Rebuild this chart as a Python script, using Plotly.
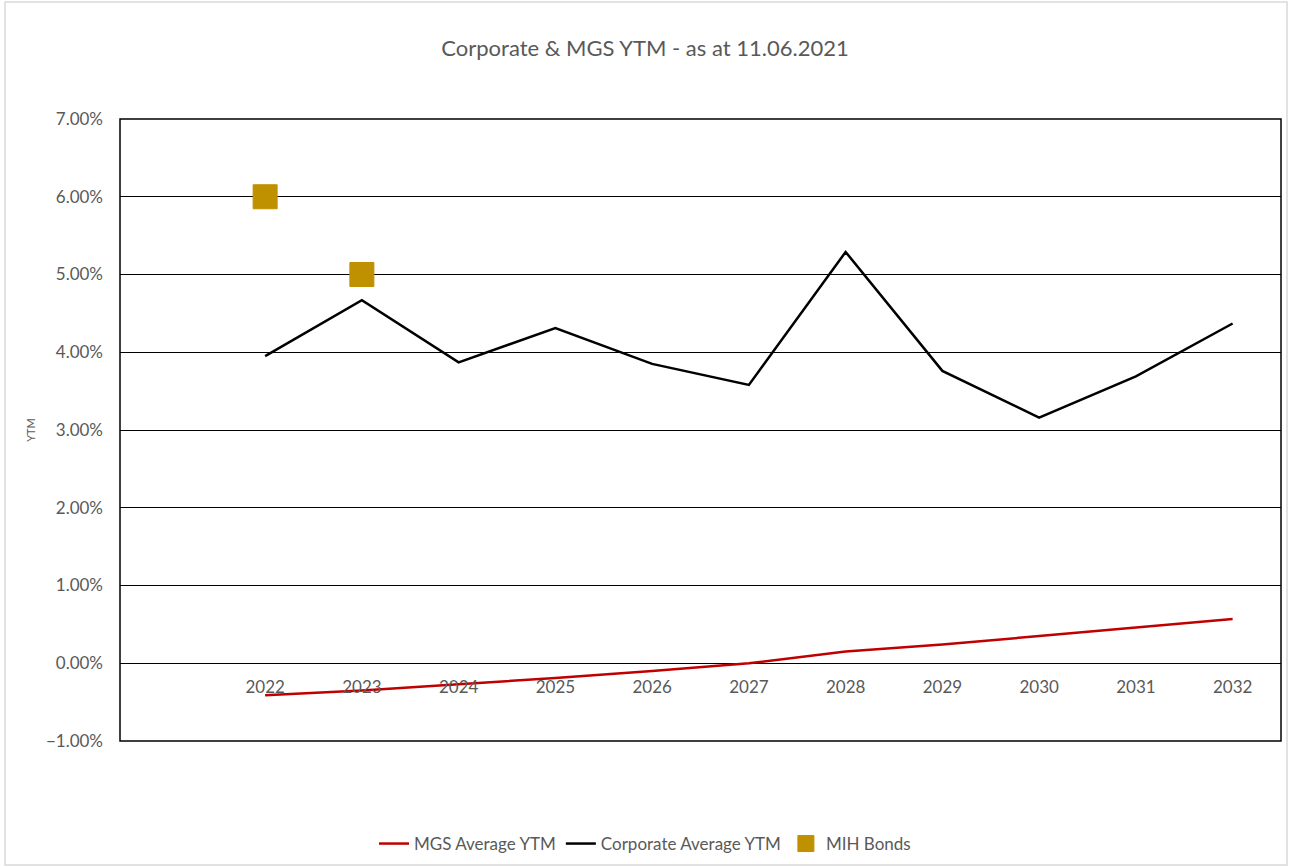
import plotly.graph_objects as go

years = [2022, 2023, 2024, 2025, 2026, 2027, 2028, 2029, 2030, 2031, 2032]
tick_labels = [str(y) for y in years]
mgs_ytm = [-0.41, -0.35, -0.27, -0.19, -0.10, 0.00, 0.15, 0.24, 0.35, 0.46, 0.57]
corp_ytm = [3.95, 4.67, 3.87, 4.31, 3.85, 3.58, 5.29, 3.76, 3.16, 3.69, 4.37]
mih_years = [2022, 2023]
mih_ytm = [6.00, 5.00]

font_family = "Lato, 'Open Sans', sans-serif"
grey = "#595959"

fig = go.Figure()
fig.add_trace(go.Scatter(x=years, y=mgs_ytm, mode="lines", name="MGS Average YTM",
                         line=dict(color="#C00000", width=2.5)))
fig.add_trace(go.Scatter(x=years, y=corp_ytm, mode="lines", name="Corporate Average YTM",
                         line=dict(color="#000000", width=2.5)))
fig.add_trace(go.Scatter(x=mih_years, y=mih_ytm, mode="markers", name="MIH Bonds",
                         marker=dict(symbol="square", size=24, color="#BF9000",
                                     line=dict(color="#BF9000", width=1))))

fig.update_layout(
    width=1290, height=867,
    paper_bgcolor="white", plot_bgcolor="white",
    margin=dict(l=120, r=9, t=119, b=126),
    font=dict(family=font_family, color=grey, size=16),
    title=dict(text="Corporate & MGS YTM - as at 11.06.2021", x=0.5, xref="container",
               xanchor="center", y=1 - 48 / 867, yref="container", yanchor="middle",
               font=dict(size=22, color=grey, family=font_family)),
    showlegend=True,
    legend=dict(orientation="h", x=0.5, xanchor="center", xref="container",
                y=1 - 844 / 867, yanchor="middle", yref="container",
                font=dict(size=17, color=grey), itemwidth=30, traceorder="normal"),
    xaxis=dict(range=[2020.5, 2032.5], tickmode="array", tickvals=years, ticktext=tick_labels,
               showgrid=False, zeroline=False, showline=False, anchor="free", position=0.125,
               ticks="", ticklabelstandoff=12, tickfont=dict(size=17, color=grey)),
    yaxis=dict(range=[-1, 7], dtick=1, tickformat=".2f", ticksuffix="%", showgrid=True,
               gridcolor="#000000", gridwidth=1, zeroline=False, showline=False,
               ticks="", ticklabelstandoff=16, tickfont=dict(size=17, color=grey),
               title=dict(text="YTM", font=dict(size=11, color=grey), standoff=8)),
    shapes=[
        dict(type="rect", xref="paper", yref="paper", x0=0, x1=1, y0=0, y1=1,
             line=dict(color="#000000", width=1.5), fillcolor="rgba(0,0,0,0)", layer="above"),
        dict(type="rect", xref="paper", yref="paper", x0=(5 - 120) / 1161, x1=(1287 - 120) / 1161,
             y0=(741 - 865) / 622, y1=(741 - 2) / 622,
             line=dict(color="#D9D9D9", width=1.5), fillcolor="rgba(0,0,0,0)"),
    ],
)

fig.write_html("out.html", config={"displayModeBar": False},
               post_script="document.body.style.margin='0';document.body.style.overflow='hidden';")
